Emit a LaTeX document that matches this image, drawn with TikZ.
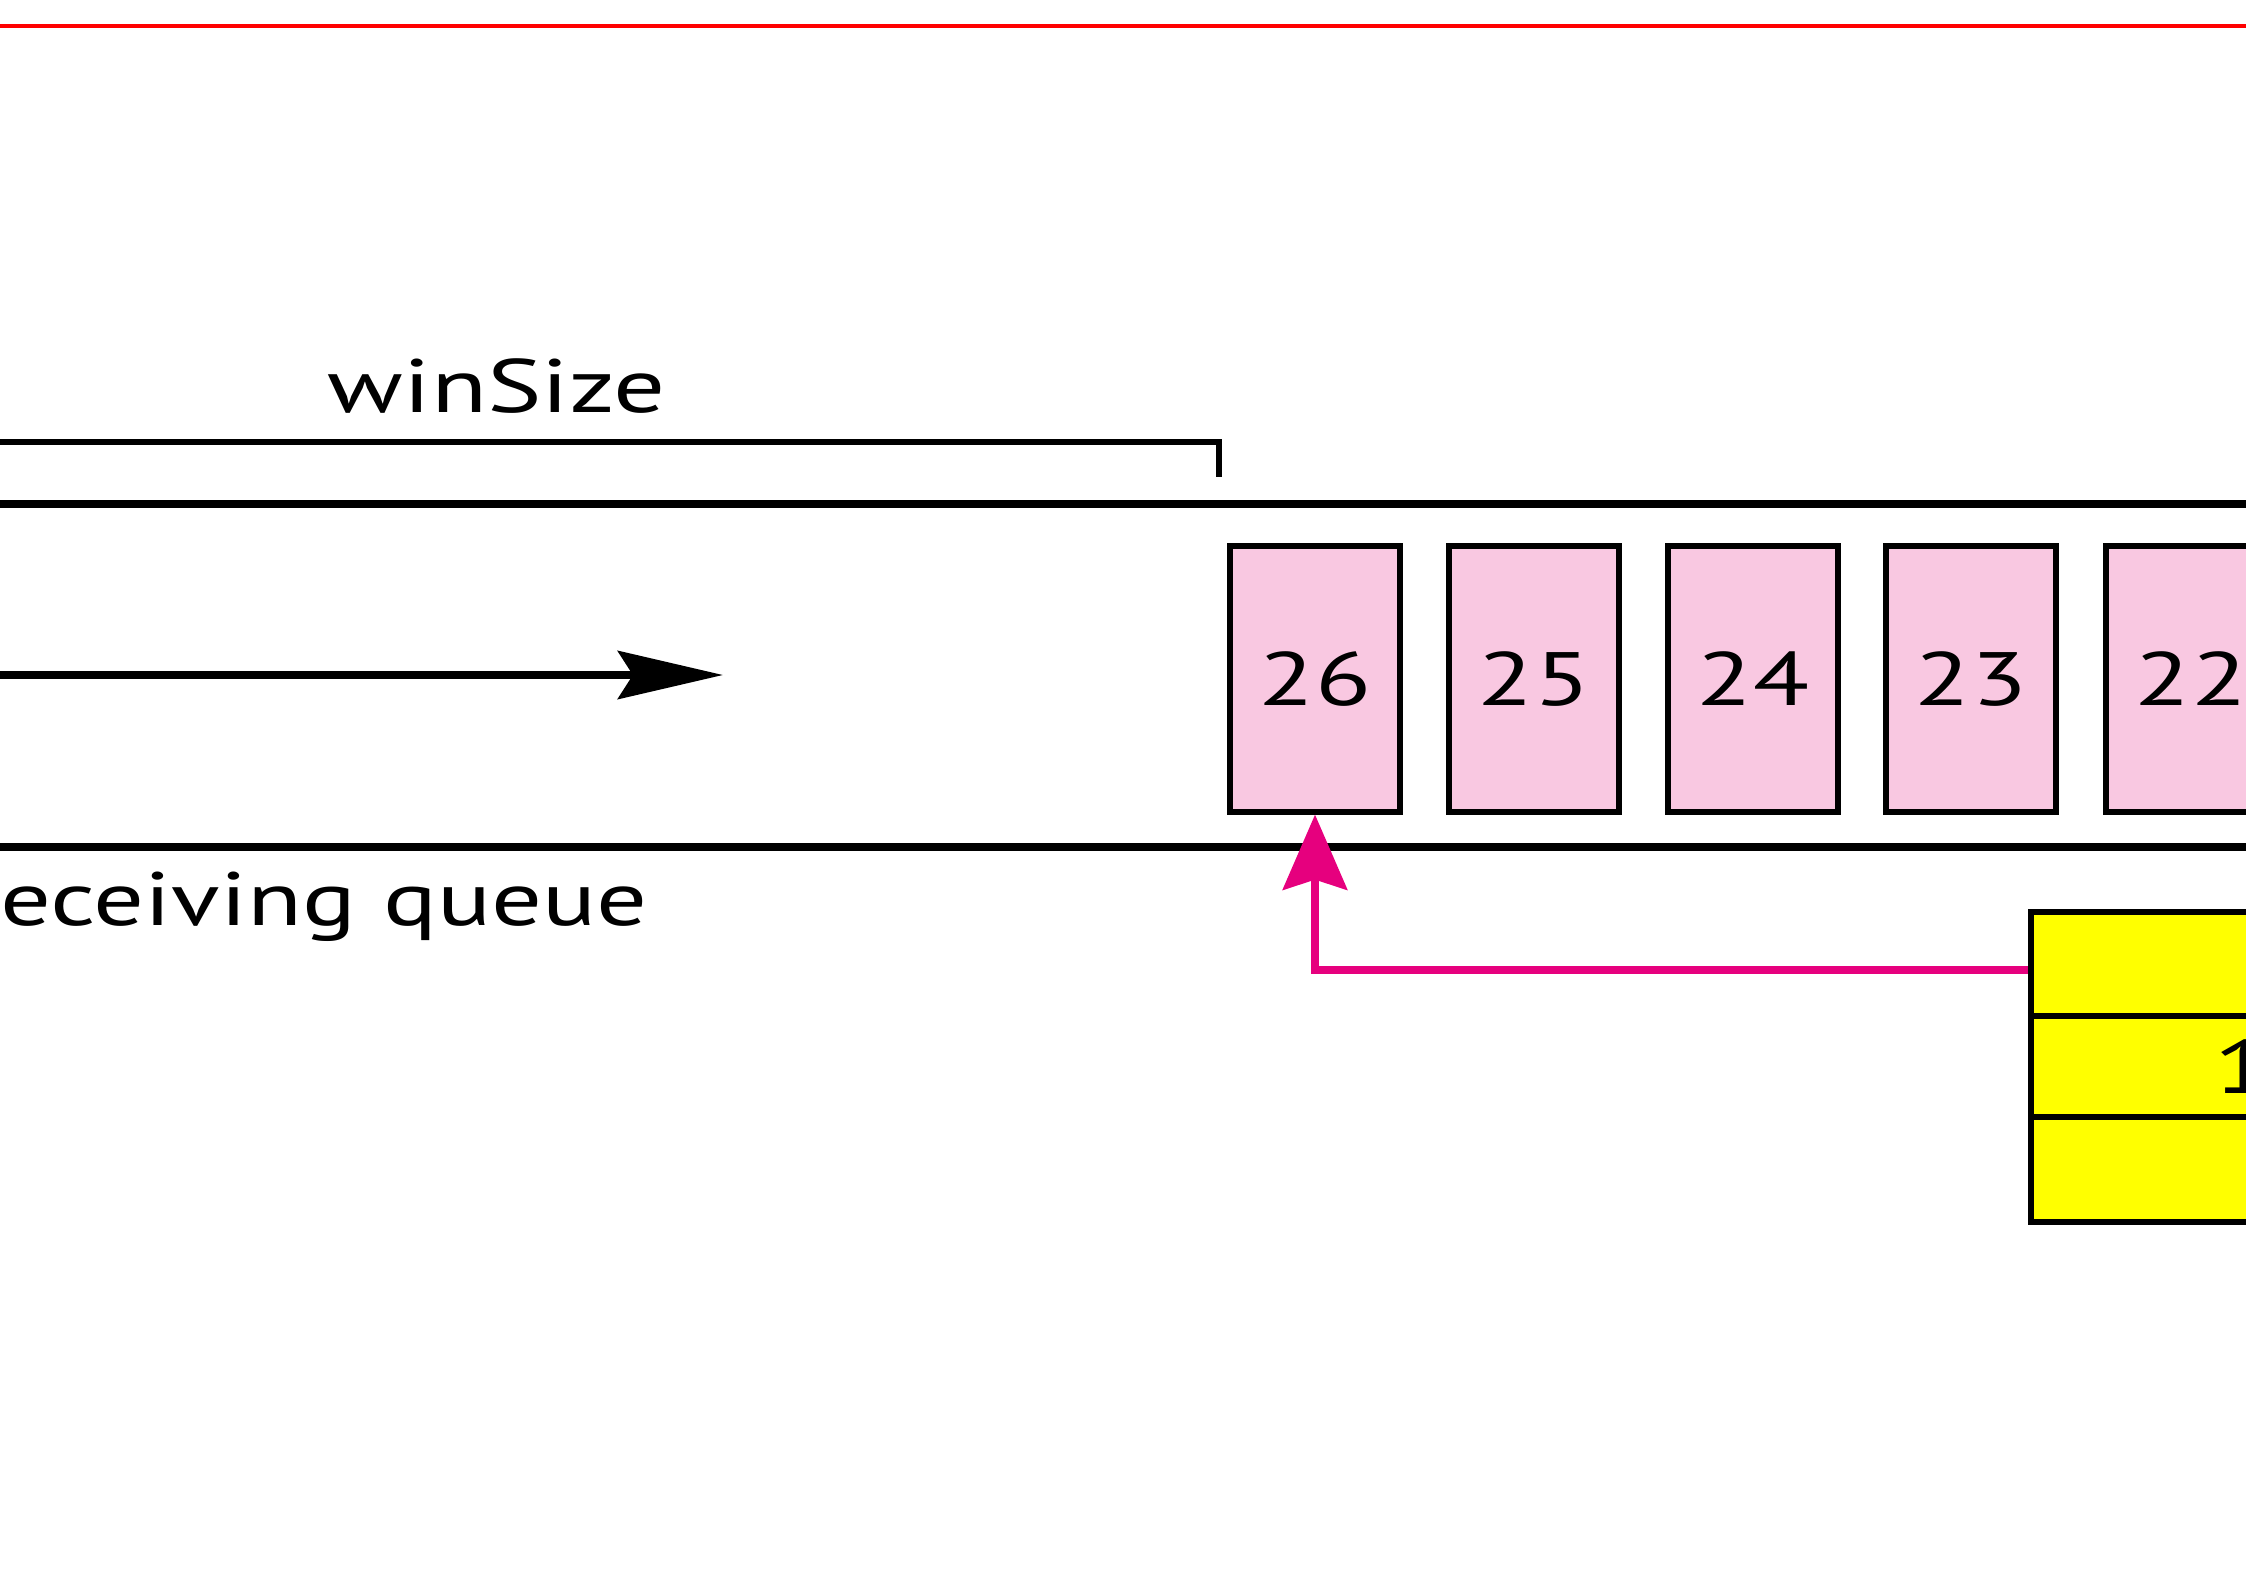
\documentclass[tikz,border=0pt]{standalone}
\usepackage{fontspec}
\setmainfont{PT Sans}
\usepackage{graphicx}
\usetikzlibrary{arrows.meta}
\definecolor{pktpink}{RGB}{249,200,225}
\definecolor{ackyellow}{RGB}{255,255,0}
\definecolor{ackpink}{RGB}{230,0,126}
\newcommand{\stretchtxt}[2][1.36]{\scalebox{#1}[1]{#2}}
\tikzset{
	lbl/.style={inner sep=0pt, font=\fontsize{21.5}{26}\selectfont},
	pkt/.style={draw, line width=0.06cm, fill=pktpink, minimum width=1.69cm, minimum height=2.65cm, inner sep=0pt, font=\fontsize{21.5}{26}\selectfont},
	slot/.style={draw, line width=0.055cm, fill=ackyellow, minimum width=3cm, inner sep=0pt},
	qline/.style={line width=0.085cm},
	flow/.style={line width=0.08cm, -{Stealth[length=1.05cm, width=0.48cm, inset=0.15cm]}},
	ack/.style={ackpink, line width=0.085cm, -{Stealth[length=0.75cm, width=0.64cm, inset=0.1cm]}}
}

\begin{document}
\begin{tikzpicture}[x=0.01cm, y=-0.01cm]
	\useasboundingbox (0,0) rectangle (2246,1588);

	\draw[red, line width=0.045cm] (0,26) -- (2246,26);

	\node[lbl, anchor=base] (win) at (497,412) {\stretchtxt{winSize}};
	\coordinate (bl) at (0,442);
	\coordinate (br) at (1219,442);
	\coordinate (bt) at (1219,477);
	\draw[line width=0.055cm] (bl) -- (br) -- (bt);

	\coordinate (qtl) at (0,504);
	\coordinate (qtr) at (2246,504);
	\coordinate (qbl) at (0,847);
	\coordinate (qbr) at (2246,847);
	\draw[qline] (qtl) -- (qtr);
	\draw[qline] (qbl) -- (qbr);
	\node[lbl, anchor=base west] (rq) at (0,925) {\stretchtxt[1.33]{eceiving queue}};

	\coordinate (fs) at (0,675);
	\coordinate (fe) at (723,675);
	\draw[flow] (fs) -- (fe);

	\node[pkt] (p26) at (1315,679) {\stretchtxt{26}};
	\node[pkt] (p25) at (1534,679) {\stretchtxt{25}};
	\node[pkt] (p24) at (1753,679) {\stretchtxt{24}};
	\node[pkt] (p23) at (1971,679) {\stretchtxt{23}};
	\node[pkt] (p22) at (2191,679) {\stretchtxt{22}};

	\node[slot, minimum height=1.04cm] (r1) at (2181,964) {};
	\node[slot, minimum height=1.01cm] (r2) at (2181,1066.5) {};
	\node[slot, minimum height=1.05cm] (r3) at (2181,1169.5) {};
	\node[lbl, anchor=base west] (seq) at (2214,1093) {\stretchtxt{1}};

	\draw[ack] ([yshift=-0.06cm]r1.west) -| (p26.south);
\end{tikzpicture}
\end{document}
